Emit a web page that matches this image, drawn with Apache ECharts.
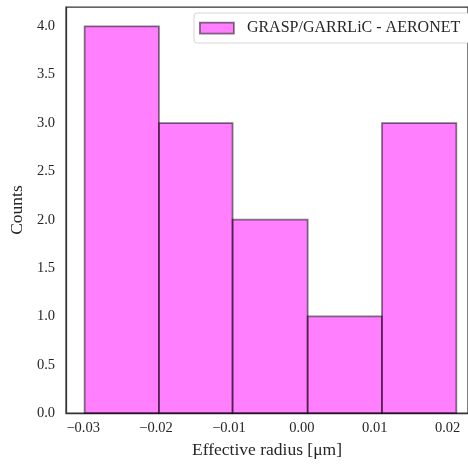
<!DOCTYPE html>
<html><head><meta charset="utf-8">
<script src="https://cdn.jsdelivr.net/npm/echarts@6/dist/echarts.min.js"></script>
<style>html,body{margin:0;padding:0;background:#fff}#c{width:468px;height:464px}</style>
</head><body><div id="c"></div>
<script>
const seriesName = 'GRASP/GARRLiC - AERONET';
const binStarts = [-0.0298, -0.0196, -0.0095, 0.0008, 0.0110];
const binEnds   = [-0.0196, -0.0095, 0.0008, 0.0110, 0.0212];
const counts    = [4, 3, 2, 1, 3];
const xTicks = [-0.03, -0.02, -0.01, 0.00, 0.01, 0.02];
const yTicks = [0, 0.5, 1.0, 1.5, 2.0, 2.5, 3.0, 3.5, 4.0];

const font = '"Liberation Serif", "DejaVu Serif", serif';
const txt = '#262626';
const data = counts.map((c, i) => [binStarts[i], binEnds[i], c]);

const chart = echarts.init(document.getElementById('c'), null, {renderer: 'canvas'});
chart.setOption({
  animation: false,
  backgroundColor: '#fff',
  grid: {left: 66, right: 0, top: 7, bottom: 50, show: true, borderColor: '#333', borderWidth: 1.25, backgroundColor: 'transparent'},
  legend: {
    left: 194, top: 13, padding: [7, 9, 7, 5],
    backgroundColor: '#fff', borderColor: '#d6d6d6', borderWidth: 1, borderRadius: 3,
    itemWidth: 34, itemHeight: 11, itemGap: 10,
    formatter: n => '  ' + n,
    textStyle: {fontFamily: font, fontSize: 16, color: txt},
    data: [{name: seriesName, icon: 'rect', itemStyle: {color: 'rgba(255,0,255,0.5)', borderColor: 'rgba(0,0,0,0.5)', borderWidth: 1.75}}]
  },
  xAxis: {
    type: 'value', min: -0.03235, max: 0.0228,
    name: 'Effective radius [μm]', nameLocation: 'middle', nameGap: 27,
    nameTextStyle: {fontFamily: font, fontSize: 17.5, color: txt},
    splitLine: {show: false}, axisTick: {show: false},
    axisLine: {show: true, onZero: false, lineStyle: {color: '#333', width: 1.25}},
    axisLabel: {customValues: xTicks, fontFamily: font, fontSize: 14.5, color: txt, margin: 8,
      formatter: v => (v < -1e-9 ? '\u2212' : '') + Math.abs(v).toFixed(2)}
  },
  yAxis: {
    type: 'value', min: 0, max: 4.2,
    name: 'Counts', nameLocation: 'middle', nameGap: 35,
    nameTextStyle: {fontFamily: font, fontSize: 17.5, color: txt},
    splitLine: {show: false}, axisTick: {show: false},
    axisLine: {show: true, onZero: false, lineStyle: {color: '#333', width: 1.25}},
    axisLabel: {customValues: yTicks, fontFamily: font, fontSize: 14.5, color: txt, margin: 11,
      formatter: v => v.toFixed(1)}
  },
  series: [{
    name: seriesName, type: 'custom',
    encode: {x: [0, 1], y: 2},
    data: data,
    renderItem: function (params, api) {
      const p0 = api.coord([api.value(0), api.value(2)]);
      const p1 = api.coord([api.value(1), 0]);
      return {
        type: 'rect',
        shape: {x: p0[0], y: p0[1], width: p1[0] - p0[0], height: p1[1] - p0[1]},
        style: {fill: 'rgba(255,0,255,0.5)', stroke: 'rgba(0,0,0,0.5)', lineWidth: 1.75}
      };
    }
  }]
});
</script></body></html>
